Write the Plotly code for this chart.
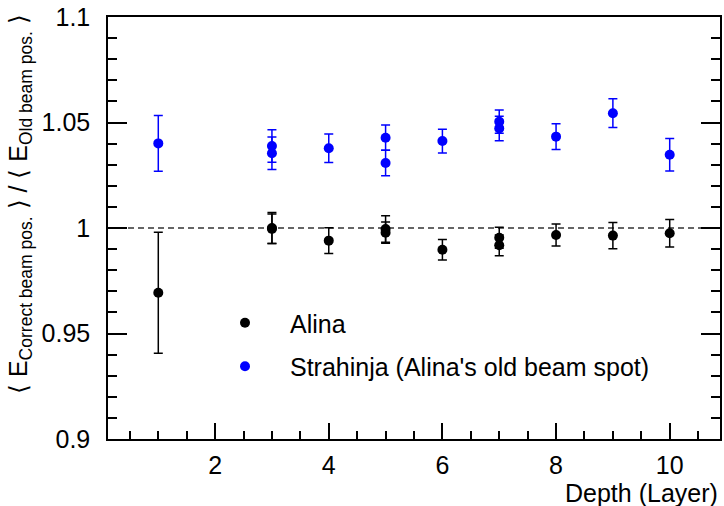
import plotly.graph_objects as go

# Alina (black)
alina_x = [1, 3, 3, 4, 5, 5, 6, 7, 7, 8, 9, 10]
alina_y = [0.9693, 1.0000, 0.9996, 0.9940, 0.9995, 0.9978, 0.9897, 0.9954, 0.9918, 0.9967, 0.9964, 0.9975]
alina_err = [0.0287, 0.0073, 0.0070, 0.0061, 0.0063, 0.0050, 0.0049, 0.0050, 0.0049, 0.0052, 0.0062, 0.0065]

# Strahinja (blue)
str_x = [1, 3, 3, 4, 5, 5, 6, 7, 7, 8, 9, 10]
str_y = [1.0401, 1.0389, 1.0354, 1.0378, 1.0428, 1.0308, 1.0412, 1.0504, 1.0472, 1.0433, 1.0544, 1.0347]
str_err = [0.0132, 0.0077, 0.0077, 0.0067, 0.0060, 0.0060, 0.0056, 0.0055, 0.0058, 0.0061, 0.0068, 0.0077]

y_ticks = [0.9, 0.95, 1.0, 1.05, 1.1]
y_ticktext = ["0.9", "0.95", "1", "1.05", "1.1"]
x_ticks = [2, 4, 6, 8, 10]
x_ticktext = ["2", "4", "6", "8", "10"]

FONT = "Liberation Sans, Arial, Helvetica, sans-serif"

fig = go.Figure()
fig.add_trace(go.Scatter(
    x=alina_x, y=alina_y, mode="markers", name="Alina", legendgroup="a",
    marker=dict(color="#000000", size=10),
    error_y=dict(type="data", array=alina_err, color="#000000", thickness=1.5, width=4.5),
))
fig.add_trace(go.Scatter(
    x=str_x, y=str_y, mode="markers", name="Strahinja (Alina's old beam spot)", legendgroup="b",
    marker=dict(color="#0000ff", size=10),
    error_y=dict(type="data", array=str_err, color="#0000ff", thickness=1.5, width=4.5),
))

fig.add_shape(type="line", xref="paper", x0=0, x1=1, yref="y", y0=1.0, y1=1.0,
              line=dict(color="#333333", width=1.5, dash="6px,4px"), layer="below")

fig.update_layout(
    template="none",
    width=724, height=506,
    margin=dict(l=108, r=4, t=17, b=67, autoexpand=False),
    paper_bgcolor="white", plot_bgcolor="white",
    font=dict(family=FONT, size=25, color="black"),
    showlegend=True,
    legend=dict(x=(200 - 108) / 612, y=(439 - 300) / 422, xanchor="left", yanchor="top",
                bgcolor="rgba(0,0,0,0)", borderwidth=0, itemwidth=80,
                traceorder="grouped", tracegroupgap=8,
                font=dict(family=FONT, size=25, color="black")),
    xaxis=dict(range=[0.115, 10.885], tickvals=x_ticks, ticktext=x_ticktext,
               ticks="inside", ticklen=16, tickwidth=1.5, tickcolor="black",
               showline=True, linecolor="black", linewidth=1.5, mirror=True,
               showgrid=False, zeroline=False, automargin=False,
               ticklabelstandoff=3,
               minor=dict(dtick=0.5, tick0=0, ticks="inside", ticklen=8, tickwidth=1.5,
                          tickcolor="black", showgrid=False),
               tickfont=dict(family=FONT, size=25)),
    yaxis=dict(range=[0.9, 1.1], tickvals=y_ticks, ticktext=y_ticktext,
               ticks="inside", ticklen=19, tickwidth=1.5, tickcolor="black",
               showline=True, linecolor="black", linewidth=1.5, mirror="ticks",
               showgrid=False, zeroline=False, automargin=False,
               ticklabelstandoff=11,
               minor=dict(dtick=0.01, tick0=0.9, ticks="inside", ticklen=9.5, tickwidth=1.5,
                          tickcolor="black", showgrid=False),
               tickfont=dict(family=FONT, size=25)),
    annotations=[
        dict(text="Depth (Layer)", xref="paper", yref="paper", x=1.0, y=(439 - 493) / 422,
             xanchor="right", yanchor="middle", showarrow=False,
             font=dict(family=FONT, size=25)),
        dict(text="⟨ E<sub>Correct beam pos.</sub> ⟩ / ⟨ E<sub>Old beam pos.</sub> ⟩",
             xref="paper", yref="paper", x=(20 - 108) / 612, y=(439 - 12) / 422,
             xanchor="center", yanchor="top", textangle=-90, showarrow=False,
             font=dict(family=FONT, size=25)),
    ],
)

fig.write_html("out.html", config={"displayModeBar": False},
               post_script="document.body.style.margin='0';document.body.style.overflow='hidden';")
